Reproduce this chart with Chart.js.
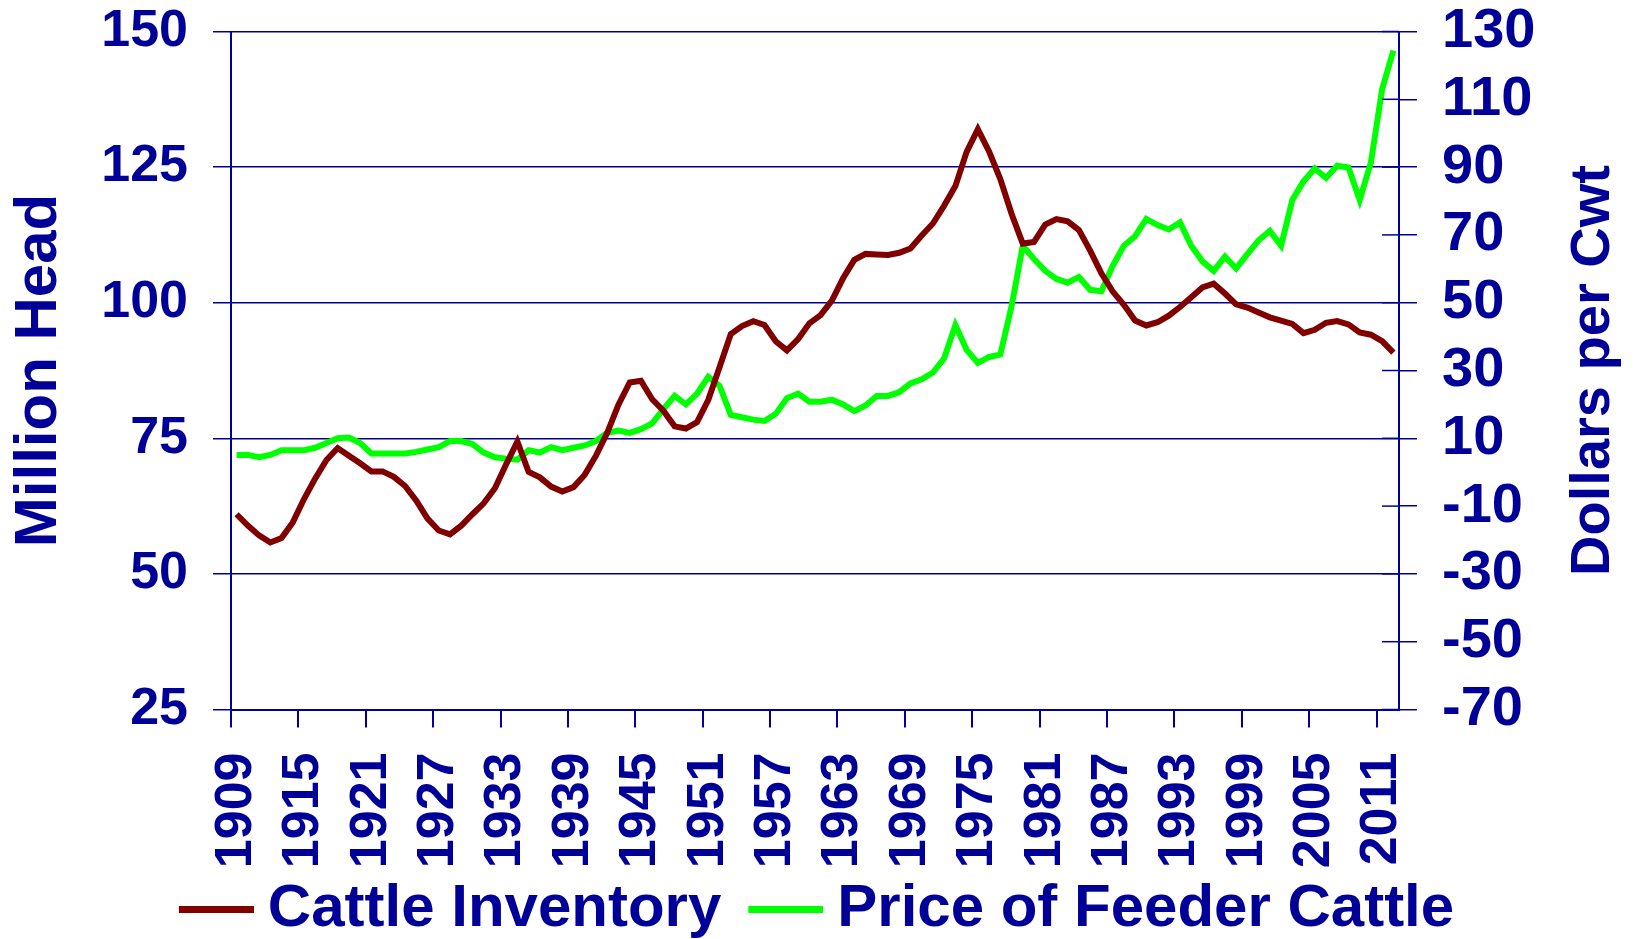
<!DOCTYPE html>
<html>
<head>
<meta charset="utf-8">
<title>Cattle Inventory and Feeder Cattle Price</title>
<script src="https://cdn.jsdelivr.net/npm/chart.js@4.4.0/dist/chart.umd.min.js"></script>
<style>
  html, body { margin: 0; padding: 0; background: #fff; }
  #wrap { width: 1638px; height: 939px; }
</style>
</head>
<body>
<div id="wrap"><canvas id="cattleChart" width="1638" height="939"></canvas></div>
<script>
// years 1909 .. 2012
const years = [];
for (let y = 1909; y <= 2012; y++) years.push(String(y));

// Cattle inventory, million head (left axis)
const cattleInventory = [
  61.0,
  58.9, 57.1, 55.8, 56.6, 59.5, 63.8, 67.6, 71.0, 73.2, 71.8,
  70.4, 68.9, 68.9, 67.9, 66.2, 63.5, 60.2, 58.0, 57.3, 58.9,
  61.0, 63.0, 65.8, 70.2, 74.4, 68.8, 67.8, 66.1, 65.2, 66.0,
  68.3, 71.8, 76.0, 81.2, 85.3, 85.6, 82.2, 80.1, 77.2, 76.8,
  78.0, 82.1, 88.1, 94.2, 95.7, 96.6, 95.9, 92.9, 91.2, 93.3,
  96.2, 97.7, 100.4, 104.5, 107.9, 109.0, 108.9, 108.8, 109.2, 110.0,
  112.4, 114.6, 117.9, 121.5, 127.8, 132.0, 127.9, 122.8, 116.4, 110.9,
  111.2, 114.4, 115.4, 115.0, 113.4, 109.6, 105.4, 102.1, 99.6, 96.7,
  95.8, 96.4, 97.6, 99.2, 101.0, 102.8, 103.5, 101.7, 99.7, 99.1,
  98.2, 97.3, 96.7, 96.1, 94.4, 95.0, 96.3, 96.6, 96.0, 94.5,
  94.1, 92.9, 90.8
];

// Price of feeder cattle, dollars per cwt (right axis)
const feederPrice = [
  5.1,
  5.1, 4.4, 5.1, 6.5, 6.5, 6.5, 7.2, 8.6, 10.0, 10.2,
  8.6, 5.5, 5.5, 5.5, 5.5, 6.0, 6.7, 7.4, 9.2, 9.2,
  8.3, 5.8, 4.4, 4.0, 3.7, 6.5, 5.8, 7.4, 6.5, 7.2,
  7.9, 9.2, 11.6, 12.3, 11.6, 12.7, 14.4, 18.6, 22.5, 20.0,
  23.2, 28.1, 25.5, 16.9, 16.2, 15.5, 15.1, 17.2, 21.8, 23.2,
  20.8, 20.8, 21.4, 20.0, 18.0, 19.7, 22.5, 22.5, 23.6, 26.2,
  27.4, 29.4, 33.6, 43.4, 36.1, 32.2, 34.0, 34.7, 48.9, 66.8,
  62.9, 59.4, 57.0, 55.9, 57.6, 53.8, 53.4, 60.8, 66.8, 69.6,
  74.7, 72.9, 71.6, 73.7, 66.8, 62.2, 59.4, 63.6, 60.1, 64.3,
  68.4, 71.2, 66.8, 80.3, 85.8, 89.6, 86.8, 90.4, 89.9, 80.3,
  91.4, 113.0, 124.4
];

const leftTitle = "Million Head";
const rightTitle = "Dollars per Cwt";
const labelEvery = 6;

const navy = "#000099";
const fontFamily = "'Liberation Sans', Arial, sans-serif";

Chart.defaults.font.family = fontFamily;
Chart.defaults.font.weight = "bold";
Chart.defaults.color = navy;

// legend marker: 75x7 bar on the right of a transparent strip,
// so the text sits close to the bar like in the original
function legendSwatch(color) {
  const c = document.createElement("canvas");
  c.width = 108;
  c.height = 7;
  const g = c.getContext("2d");
  g.fillStyle = color;
  g.fillRect(33, 0, 75, 7);
  return c;
}

// right axis: title reads bottom-to-top, ticks cross the axis line
const rightAxisExtras = {
  id: "rightAxisExtras",
  afterDraw(chart) {
    const ctx = chart.ctx;
    const area = chart.chartArea;
    const y1 = chart.scales.y1;
    ctx.save();
    ctx.strokeStyle = navy;
    ctx.lineWidth = 1.5;
    y1.ticks.forEach((t) => {
      const py = y1.getPixelForValue(t.value);
      ctx.beginPath();
      ctx.moveTo(area.right - 17, py);
      ctx.lineTo(area.right, py);
      ctx.stroke();
    });
    ctx.translate(1594, (area.top + area.bottom) / 2);
    ctx.rotate(-Math.PI / 2);
    ctx.font = "bold 56px " + fontFamily;
    ctx.fillStyle = navy;
    ctx.textAlign = "center";
    ctx.textBaseline = "middle";
    ctx.fillText(rightTitle, 0, 0);
    ctx.restore();
  }
};

const swatches = [legendSwatch("#800000"), legendSwatch("#00ff00")];

new Chart(document.getElementById("cattleChart"), {
  type: "line",
  data: {
    labels: years,
    datasets: [
      {
        label: "Cattle Inventory",
        data: cattleInventory,
        yAxisID: "y",
        borderColor: "#800000",
        backgroundColor: "#800000",
        borderWidth: 6,
        pointRadius: 0,
        tension: 0
      },
      {
        label: "Price of Feeder Cattle",
        data: feederPrice,
        yAxisID: "y1",
        borderColor: "#00ff00",
        backgroundColor: "#00ff00",
        borderWidth: 6,
        pointRadius: 0,
        tension: 0
      }
    ]
  },
  options: {
    responsive: false,
    animation: false,
    devicePixelRatio: 1,
    layout: { padding: { top: 31.5, left: -22, right: 0, bottom: 0 } },
    plugins: {
      tooltip: { enabled: false },
      legend: {
        position: "bottom",
        maxHeight: 70,
        labels: {
          color: navy,
          font: { size: 60, weight: "bold" },
          usePointStyle: true,
          pointStyleWidth: 76,
          boxHeight: 7,
          padding: 10,
          generateLabels(chart) {
            return Chart.defaults.plugins.legend.labels.generateLabels(chart).map((l) => {
              l.pointStyle = swatches[l.datasetIndex];
              l.lineWidth = 0;
              return l;
            });
          }
        }
      }
    },
    scales: {
      x: {
        type: "category",
        offset: true,
        afterFit(scale) { scale.height = 159.5; },
        grid: {
          offset: true,
          drawOnChartArea: false,
          drawTicks: true,
          tickLength: 18,
          lineWidth: 2,
          color: (c) => (c.index % labelEvery === 0 ? navy : "rgba(0,0,0,0)")
        },
        border: { display: true, color: navy, width: 2 },
        ticks: {
          autoSkip: false,
          minRotation: 90,
          maxRotation: 90,
          padding: 25,
          color: navy,
          font: { size: 52, weight: "bold" },
          callback(value, index) {
            return index % labelEvery === 0 ? years[index] : "";
          }
        }
      },
      y: {
        position: "left",
        min: 25,
        max: 150,
        afterFit(scale) { scale.width = 253; },
        grid: { color: navy, lineWidth: 1.5, tickLength: 18, drawTicks: true },
        border: { display: true, color: navy, width: 2 },
        ticks: {
          stepSize: 25,
          padding: 25,
          color: navy,
          font: { size: 52, weight: "bold", lineHeight: 0.2 }
        },
        title: {
          display: true,
          text: leftTitle,
          color: navy,
          font: { size: 60, weight: "bold", lineHeight: 1 },
          padding: { top: 31, bottom: 0 }
        }
      },
      y1: {
        position: "right",
        min: -70,
        max: 130,
        afterFit(scale) { scale.width = 239; },
        grid: { drawOnChartArea: false, color: navy, lineWidth: 1.5, tickLength: 18 },
        border: { display: true, color: navy, width: 2 },
        ticks: {
          stepSize: 20,
          padding: 25,
          color: navy,
          font: { size: 56, weight: "bold", lineHeight: 0.2 }
        }
      }
    }
  },
  plugins: [rightAxisExtras]
});
</script>
</body>
</html>
